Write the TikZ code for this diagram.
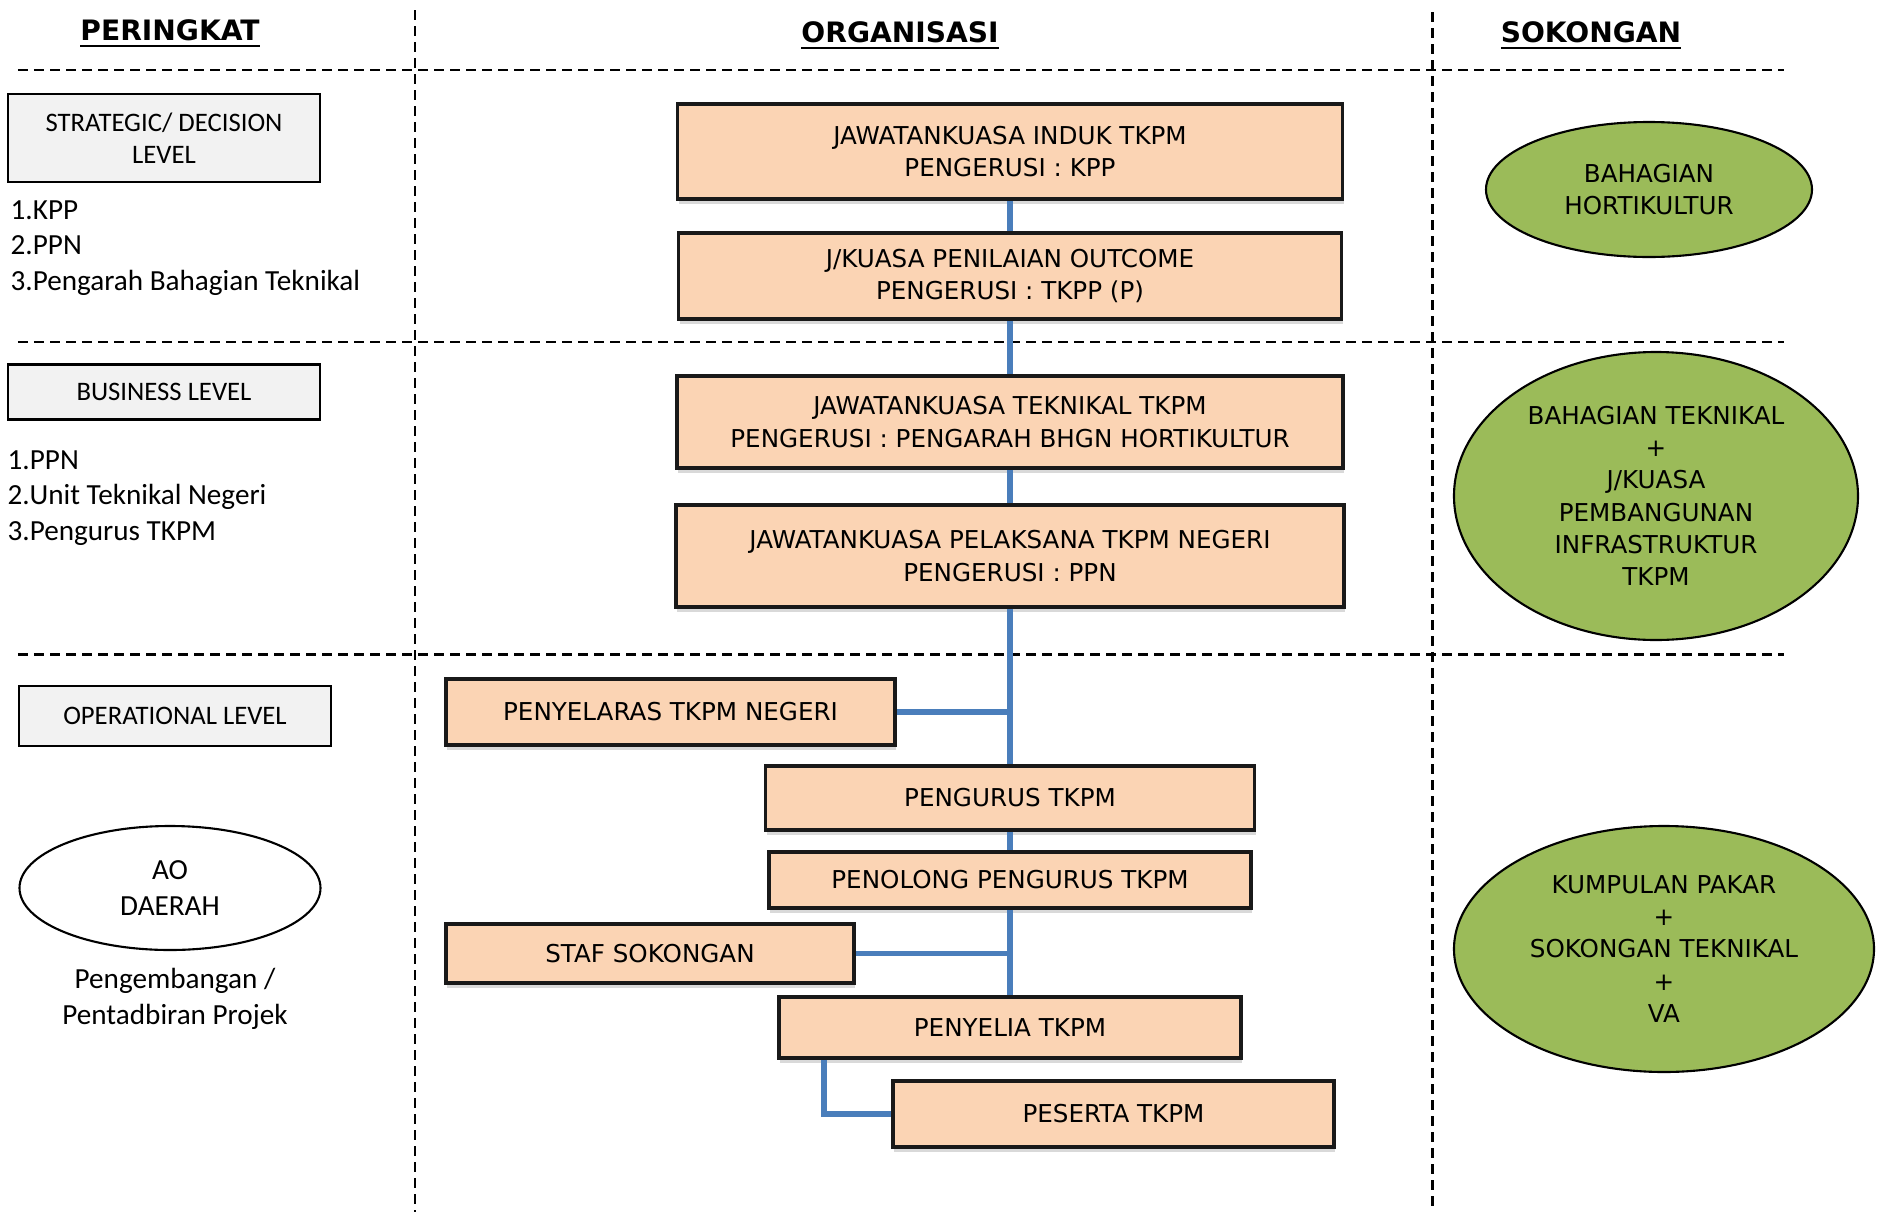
\documentclass[tikz,border=0pt]{standalone}
\usepackage{fontspec}
\setmainfont{Carlito}
\newfontfamily\kotakfont{DejaVu Sans}
\usetikzlibrary{shapes.geometric,shadows}
\definecolor{oren}{HTML}{FBD4B4}
\definecolor{hijau}{HTML}{9BBB59}
\definecolor{biru}{HTML}{4A7EBB}
\definecolor{kelabu}{HTML}{F2F2F2}
\tikzset{
  tajuk/.style={inner sep=0pt, font=\kotakfont\bfseries\fontsize{8}{10}\selectfont},
  aras/.style={draw, line width=0.7pt, fill=kelabu, inner sep=0pt, align=center, font=\fontsize{7.6}{9.2}\selectfont},
  senarai/.style={anchor=west, align=left, inner sep=0pt, font=\fontsize{8.3}{10.2}\selectfont},
  unit/.style={draw=black!90, line width=1.1pt, fill=oren, inner sep=0pt, align=center,
    font=\kotakfont\fontsize{7}{9.2}\selectfont,
    drop shadow={shadow xshift=0.4pt, shadow yshift=-1.4pt, opacity=0.3}},
  sokong/.style={ellipse, draw, line width=0.6pt, fill=hijau, inner sep=0pt, align=center,
    font=\kotakfont\fontsize{7}{9.2}\selectfont},
  garis/.style={biru, line width=1.6pt},
  sempadan/.style={dash pattern=on 0.1cm off 0.06cm, line width=0.85pt}
}
\begin{document}
\begin{tikzpicture}
\useasboundingbox (0,0) rectangle (18.81,-12.12);
\draw[sempadan] (0.18,-0.70) -- (17.84,-0.70);
\draw[sempadan] (0.18,-3.42) -- (17.84,-3.42);
\draw[sempadan] (0.18,-6.54) -- (17.84,-6.54);
\draw[sempadan] (4.15,-0.10) -- (4.15,-12.12);
\draw[sempadan] (14.32,-0.12) -- (14.32,-12.12);
\node[tajuk] (peringkat) at (1.70,-0.34) {\underline{PERINGKAT}};
\node[tajuk] (organisasi) at (9.00,-0.36) {\underline{ORGANISASI}};
\node[tajuk] (sokongan) at (15.91,-0.36) {\underline{SOKONGAN}};
\node[aras, minimum width=3.12cm, minimum height=0.88cm] (strategik) at (1.64,-1.38) {STRATEGIC/ DECISION\\LEVEL};
\node[senarai] (senarai1) at (0.10,-2.48) {1.KPP\\2.PPN\\3.Pengarah Bahagian Teknikal};
\node[aras, minimum width=3.12cm, minimum height=0.55cm] (bisnes) at (1.64,-3.92) {BUSINESS LEVEL};
\node[senarai] (senarai2) at (0.07,-4.98) {1.PPN\\2.Unit Teknikal Negeri\\3.Pengurus TKPM};
\node[aras, minimum width=3.12cm, minimum height=0.60cm] (operasi) at (1.75,-7.16) {OPERATIONAL LEVEL};
\node[ellipse, draw, line width=0.6pt, fill=white, inner sep=0pt, align=center, minimum width=3.01cm, minimum height=1.24cm,
  font=\fontsize{8.3}{10.2}\selectfont] (ao) at (1.70,-8.88) {AO\\DAERAH};
\node[senarai, anchor=center, align=center] (projek) at (1.75,-9.99) {Pengembangan /\\Pentadbiran Projek};
\node[unit, minimum width=6.65cm, minimum height=0.95cm] (induk) at (10.10,-1.515) {JAWATANKUASA INDUK TKPM\\PENGERUSI : KPP};
\node[unit, minimum width=6.63cm, minimum height=0.86cm] (penilaian) at (10.10,-2.76) {J/KUASA PENILAIAN OUTCOME\\PENGERUSI : TKPP (P)};
\node[unit, minimum width=6.66cm, minimum height=0.92cm] (teknikal) at (10.10,-4.22) {JAWATANKUASA TEKNIKAL TKPM\\PENGERUSI : PENGARAH BHGN HORTIKULTUR};
\node[unit, minimum width=6.68cm, minimum height=1.02cm] (pelaksana) at (10.10,-5.56) {JAWATANKUASA PELAKSANA TKPM NEGERI\\PENGERUSI : PPN};
\node[unit, minimum width=4.49cm, minimum height=0.66cm] (penyelaras) at (6.705,-7.12) {PENYELARAS TKPM NEGERI};
\node[unit, minimum width=4.89cm, minimum height=0.64cm] (pengurus) at (10.10,-7.98) {PENGURUS TKPM};
\node[unit, minimum width=4.82cm, minimum height=0.56cm] (penolong) at (10.10,-8.80) {PENOLONG PENGURUS TKPM};
\node[unit, minimum width=4.08cm, minimum height=0.59cm] (staf) at (6.50,-9.535) {STAF SOKONGAN};
\node[unit, minimum width=4.62cm, minimum height=0.61cm] (penyelia) at (10.10,-10.275) {PENYELIA TKPM};
\node[unit, minimum width=4.41cm, minimum height=0.66cm] (peserta) at (11.135,-11.14) {PESERTA TKPM};
\node[sokong, minimum width=3.26cm, minimum height=1.35cm] (hortikultur) at (16.49,-1.895) {BAHAGIAN\\HORTIKULTUR};
\node[sokong, minimum width=4.04cm, minimum height=2.88cm] (bhgteknikal) at (16.56,-4.96) {BAHAGIAN TEKNIKAL\\+\\J/KUASA\\PEMBANGUNAN\\INFRASTRUKTUR\\TKPM};
\node[sokong, minimum width=4.20cm, minimum height=2.46cm] (pakar) at (16.64,-9.49) {KUMPULAN PAKAR\\+\\SOKONGAN TEKNIKAL\\+\\VA};
\draw[garis] (induk.south) -- (penilaian.north);
\draw[garis] (penilaian.south) -- (teknikal.north);
\draw[garis] (teknikal.south) -- (pelaksana.north);
\draw[garis] (pelaksana.south) -- (pengurus.north);
\draw[garis] (penyelaras.east) -- (penyelaras.east -| pelaksana.south);
\draw[garis] (pengurus.south) -- (penolong.north);
\draw[garis] (penolong.south) -- (penyelia.north);
\draw[garis] (staf.east) -- (staf.east -| penolong.south);
\draw[garis] ([xshift=0.47cm]penyelia.south west) |- (peserta.west);
\end{tikzpicture}
\end{document}
